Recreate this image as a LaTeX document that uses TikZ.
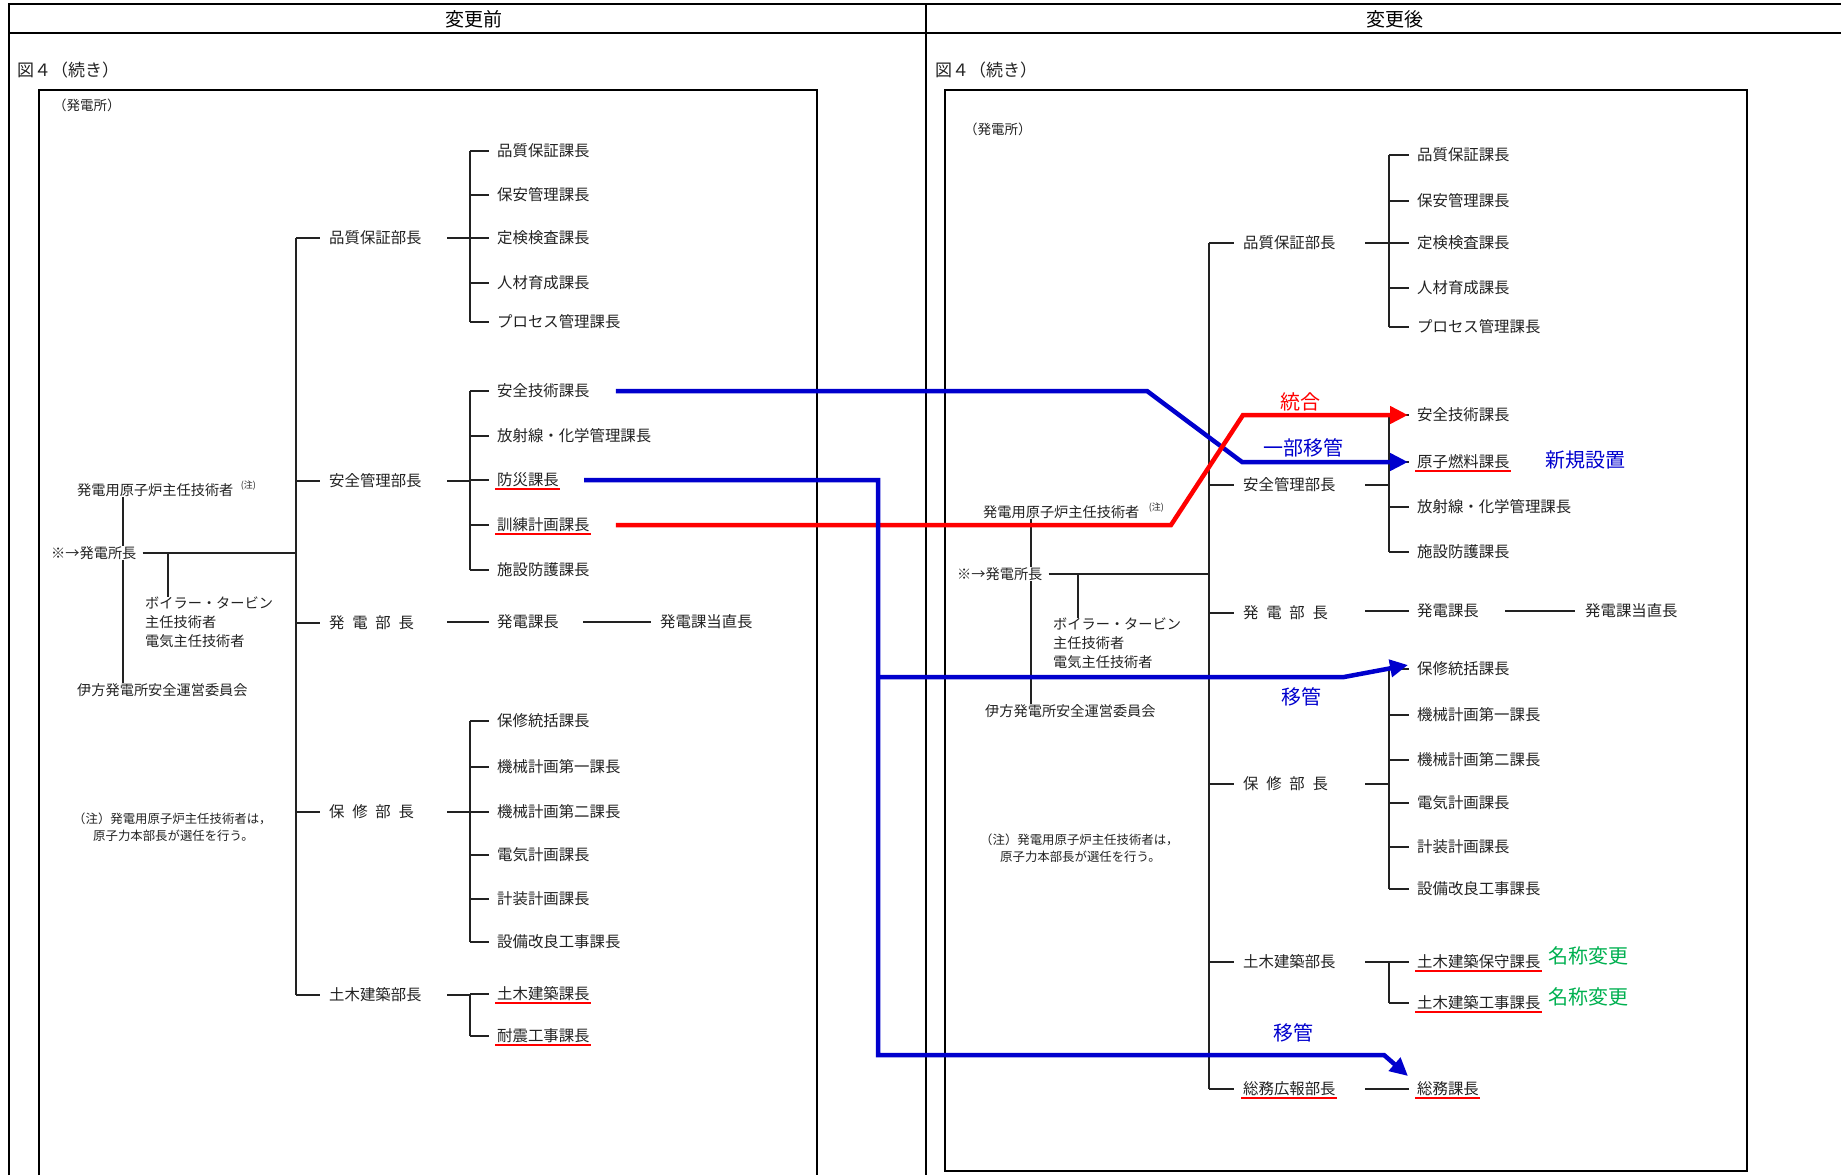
\documentclass[tikz,border=0pt]{standalone}
\usepackage{fontspec}
\setmainfont{Noto Sans CJK JP}
\usetikzlibrary{arrows.meta,calc}
\definecolor{ink}{HTML}{222222}
\definecolor{cred}{RGB}{255,0,0}
\definecolor{cblue}{RGB}{0,0,205}
\definecolor{cgreen}{RGB}{0,176,80}
\newcommand{\fs}[1]{\fontsize{#1}{#1}\selectfont}
\newcommand{\gp}{\hspace{0.5em}}
\begin{document}
\begin{tikzpicture}[x=1pt,y=-1pt,
  t/.style={anchor=west,inner sep=0pt,text=ink,font=\fs{15.4}},
  s/.style={anchor=west,inner sep=0pt,text=ink,font=\fs{14.2}},
  nt/.style={anchor=west,inner sep=0pt,text=ink,font=\fs{12.4}},
  pl/.style={anchor=west,inner sep=0pt,text=ink,font=\fs{13.5}},
  supn/.style={anchor=west,inner sep=0pt,text=ink,font=\fs{9}},
  hd/.style={inner sep=0pt,text=black,font=\fs{19}},
  fig/.style={anchor=west,inner sep=0pt,text=ink,font=\fs{17}},
  tree/.style={draw=ink,line width=1.1pt},
  frame/.style={draw=black,line width=2.6pt},
  box/.style={draw=black,line width=1.6pt},
  ul/.style={draw=cred,line width=1.8pt},
  mvb/.style={draw=cblue,line width=4.5pt,-{Triangle[length=18pt,width=17pt]}},
  mvr/.style={draw=cred,line width=4.5pt,-{Triangle[length=18pt,width=17pt]}},
  lab/.style={inner sep=0pt,font=\fs{20}},
]
\newcommand{\ulx}[1]{\draw[ul] ($(#1.south west)+(-2,1.5)$) -- ($(#1.south east)+(1,1.5)$);}
\useasboundingbox (0,0) rectangle (1841,1175);
% ---------- frames ----------
\draw[frame] (9,1175) -- (9,4) -- (1841,4);
\draw[frame] (9,33) -- (1841,33);
\draw[frame] (926,4) -- (926,1175);
\draw[box] (39,1175) -- (39,90) -- (817,90) -- (817,1175);
\draw[box] (945,90) rectangle (1747,1171);
\node[hd] (h1) at (474,19) {変更前};
\node[hd] (h2) at (1395,19) {変更後};
\node[fig] (f1) at (17,70) {図４（続き）};
\node[fig] (f2) at (935,70) {図４（続き）};
\node[pl] (p1) at (53,105) {（発電所）};
\node[pl] (p2) at (964,129) {（発電所）};

% =================== LEFT (before) ===================
\coordinate (LV) at (296,0);
\coordinate (Lx) at (123,0);
\coordinate (Lbx) at (168,0);
\coordinate (Lp) at (447,0);
\coordinate (LS) at (470,0);

\node[s] (Lgen) at (77,490) {発電用原子炉主任技術者};
\node[supn] (Lgenn) at ($(Lgen.east)+(7,-4)$) {(注)};
\node[s] (Lcho) at (51,553) {※→発電所長};
\node[s] (Lboi1) at (145,603) {ボイラー・タービン};
\node[s] (Lboi2) at (145,622) {主任技術者};
\node[s] (Lboi3) at (145,641) {電気主任技術者};
\node[s] (Liho) at (77,690) {伊方発電所安全運営委員会};
\node[nt] (Lnote1) at (73,819) {（注）発電用原子炉主任技術者は，};
\node[nt] (Lnote2) at (93,836) {原子力本部長が選任を行う。};

\draw[tree] (Lgen.south -| Lx) -- (Lcho.north -| Lx);
\draw[tree] (Lcho.south -| Lx) -- (Liho.north -| Lx);
\draw[tree] ($(Lcho.east)+(6,0)$) -- (LV |- Lcho.east);
\draw[tree] (Lbx |- Lcho.east) -- (Lbx |- Lboi1.north);

\node[t] (Ld1) at (329,238) {品質保証部長};
\node[t] (Ld2) at (329,481) {安全管理部長};
\node[t] (Ld3) at (329,623) {発\gp 電\gp 部\gp 長};
\node[t] (Ld4) at (329,812) {保\gp 修\gp 部\gp 長};
\node[t] (Ld5) at (329,995) {土木建築部長};
\draw[tree] (LV |- Ld1.west) -- (LV |- Ld5.west);
\foreach \n in {Ld1,Ld2,Ld3,Ld4,Ld5}
  \draw[tree] (LV |- \n.west) -- ($(\n.west)+(-9,0)$);

\node[t] (Lc11) at (497,151) {品質保証課長};
\node[t] (Lc12) at (497,195) {保安管理課長};
\node[t] (Lc13) at (497,238) {定検検査課長};
\node[t] (Lc14) at (497,283) {人材育成課長};
\node[t] (Lc15) at (497,322) {プロセス管理課長};
\node[t] (Lc21) at (497,391) {安全技術課長};
\node[t] (Lc22) at (497,436) {放射線・化学管理課長};
\node[t] (Lc23) at (497,480) {防災課長};
\node[t] (Lc24) at (497,525) {訓練計画課長};
\node[t] (Lc25) at (497,570) {施設防護課長};
\node[t] (Lc31) at (497,622) {発電課長};
\node[t] (Lc32) at (660,622) {発電課当直長};
\node[t] (Lc41) at (497,721) {保修統括課長};
\node[t] (Lc42) at (497,767) {機械計画第一課長};
\node[t] (Lc43) at (497,812) {機械計画第二課長};
\node[t] (Lc44) at (497,855) {電気計画課長};
\node[t] (Lc45) at (497,899) {計装計画課長};
\node[t] (Lc46) at (497,942) {設備改良工事課長};
\node[t] (Lc51) at (497,994) {土木建築課長};
\node[t] (Lc52) at (497,1036) {耐震工事課長};
\ulx{Lc23}\ulx{Lc24}\ulx{Lc51}\ulx{Lc52}

\foreach \d/\a/\b in {Ld1/Lc11/Lc15,Ld2/Lc21/Lc25,Ld4/Lc41/Lc46,Ld5/Lc51/Lc52}{
  \draw[tree] (Lp |- \d.west) -- (LS |- \d.west);
  \draw[tree] (LS |- \a.west) -- (LS |- \b.west);
}
\foreach \n in {Lc11,Lc12,Lc13,Lc14,Lc15,Lc21,Lc22,Lc23,Lc24,Lc25,Lc41,Lc42,Lc43,Lc44,Lc45,Lc46,Lc51,Lc52}
  \draw[tree] (LS |- \n.west) -- ($(\n.west)+(-8,0)$);
\draw[tree] (Lp |- Lc31.west) -- ($(Lc31.west)+(-8,0)$);
\draw[tree] ($(Lc31.east)+(24,0)$) -- ($(Lc32.west)+(-9,0)$);

% =================== RIGHT (after) ===================
\coordinate (RV) at (1209,0);
\coordinate (Rx) at (1031,0);
\coordinate (Rbx) at (1078,0);
\coordinate (Rp) at (1365,0);
\coordinate (RS) at (1389,0);

\node[s] (Rgen) at (983,512) {発電用原子炉主任技術者};
\node[supn] (Rgenn) at ($(Rgen.east)+(9,-4)$) {(注)};
\node[s] (Rcho) at (957,574) {※→発電所長};
\node[s] (Rboi1) at (1053,624) {ボイラー・タービン};
\node[s] (Rboi2) at (1053,643) {主任技術者};
\node[s] (Rboi3) at (1053,662) {電気主任技術者};
\node[s] (Riho) at (985,711) {伊方発電所安全運営委員会};
\node[nt] (Rnote1) at (980,840) {（注）発電用原子炉主任技術者は，};
\node[nt] (Rnote2) at (1000,857) {原子力本部長が選任を行う。};

\draw[tree] (Rgen.south -| Rx) -- (Rcho.north -| Rx);
\draw[tree] (Rcho.south -| Rx) -- (Riho.north -| Rx);
\draw[tree] ($(Rcho.east)+(6,0)$) -- (RV |- Rcho.east);
\draw[tree] (Rbx |- Rcho.east) -- (Rbx |- Rboi1.north);

\node[t] (Rd1) at (1243,243) {品質保証部長};
\node[t] (Rd2) at (1243,485) {安全管理部長};
\node[t] (Rd3) at (1243,613) {発\gp 電\gp 部\gp 長};
\node[t] (Rd4) at (1243,784) {保\gp 修\gp 部\gp 長};
\node[t] (Rd5) at (1243,962) {土木建築部長};
\node[t] (Rd6) at (1243,1089) {総務広報部長};
\draw[tree] (RV |- Rd1.west) -- (RV |- Rd6.west);
\foreach \n in {Rd1,Rd2,Rd3,Rd4,Rd5,Rd6}
  \draw[tree] (RV |- \n.west) -- ($(\n.west)+(-9,0)$);

\node[t] (Rc11) at (1417,155) {品質保証課長};
\node[t] (Rc12) at (1417,201) {保安管理課長};
\node[t] (Rc13) at (1417,243) {定検検査課長};
\node[t] (Rc14) at (1417,288) {人材育成課長};
\node[t] (Rc15) at (1417,327) {プロセス管理課長};
\node[t] (Rc21) at (1417,415) {安全技術課長};
\node[t] (Rc22) at (1417,462) {原子燃料課長};
\node[t] (Rc23) at (1417,507) {放射線・化学管理課長};
\node[t] (Rc24) at (1417,552) {施設防護課長};
\node[t] (Rc31) at (1417,611) {発電課長};
\node[t] (Rc32) at (1585,611) {発電課当直長};
\node[t] (Rc41) at (1417,669) {保修統括課長};
\node[t] (Rc42) at (1417,715) {機械計画第一課長};
\node[t] (Rc43) at (1417,760) {機械計画第二課長};
\node[t] (Rc44) at (1417,803) {電気計画課長};
\node[t] (Rc45) at (1417,847) {計装計画課長};
\node[t] (Rc46) at (1417,889) {設備改良工事課長};
\node[t] (Rc51) at (1417,962) {土木建築保守課長};
\node[t] (Rc52) at (1417,1003) {土木建築工事課長};
\node[t] (Rc61) at (1417,1089) {総務課長};
\ulx{Rc22}\ulx{Rc51}\ulx{Rc52}\ulx{Rd6}\ulx{Rc61}

\foreach \d/\a/\b in {Rd1/Rc11/Rc15,Rd2/Rc21/Rc24,Rd4/Rc41/Rc46,Rd5/Rc51/Rc52}{
  \draw[tree] (Rp |- \d.west) -- (RS |- \d.west);
  \draw[tree] (RS |- \a.west) -- (RS |- \b.west);
}
\foreach \n in {Rc11,Rc12,Rc13,Rc14,Rc15,Rc21,Rc22,Rc23,Rc24,Rc41,Rc42,Rc43,Rc44,Rc45,Rc46,Rc51,Rc52}
  \draw[tree] (RS |- \n.west) -- ($(\n.west)+(-8,0)$);
\draw[tree] (Rp |- Rc31.west) -- ($(Rc31.west)+(-8,0)$);
\draw[tree] ($(Rc31.east)+(26,0)$) -- ($(Rc32.west)+(-10,0)$);
\draw[tree] (Rp |- Rd6.west) -- ($(Rc61.west)+(-8,0)$);

% =================== change arrows ===================
\coordinate (BV) at (878,0);
\draw[mvb] ($(Lc21.east)+(26,0)$) coordinate (b1s) -- (1147,391) -- (1242,462) -- ($(Rc22.west)+(-9,0)$);
\draw[mvr] ($(Lc24.east)+(26,0)$) -- (1171,525) -- (1243,415) -- ($(Rc21.west)+(-9,0)$);
\draw[mvb] ($(Lc23.east)+(25,0)$) coordinate (b2s) -- (BV |- b2s) -- (878,1055) -- (1384,1055) -- ($(Rc61.west)+(-9,-13)$);
\draw[mvb] (878,677) -- (1344,677) -- ($(Rc41.west)+(-9,-4)$);

\node[lab,text=cred] (l1) at (1300,402) {統合};
\node[lab,text=cblue] (l2) at (1303,448) {一部移管};
\node[lab,text=cblue] (l3) at (1301,697) {移管};
\node[lab,text=cblue] (l4) at (1293,1033) {移管};
\node[lab,text=cblue] (l5) at (1585,460) {新規設置};
\node[lab,text=cgreen,anchor=west] (l6) at (1548,956) {名称変更};
\node[lab,text=cgreen,anchor=west] (l7) at (1548,997) {名称変更};
\end{tikzpicture}
\end{document}
